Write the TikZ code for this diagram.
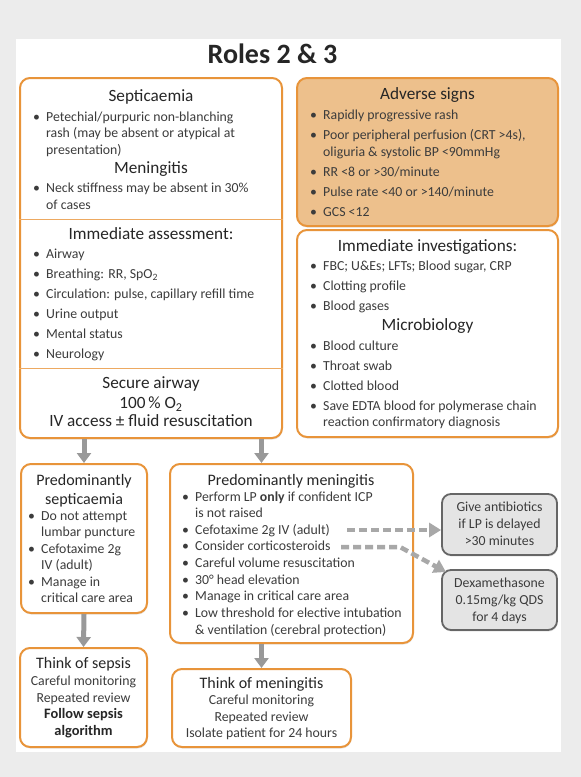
\documentclass[tikz,border=0pt]{standalone}
\usepackage{fontspec}
\setmainfont{Carlito}
\usetikzlibrary{arrows.meta,shadows}
\definecolor{orng}{HTML}{E8943A}
\definecolor{orfill}{HTML}{EDC08C}
\definecolor{bgg}{HTML}{ECECEC}
\definecolor{txtc}{HTML}{3C3C3C}
\definecolor{hdc}{HTML}{262626}
\definecolor{arrg}{HTML}{999999}
\definecolor{gfill}{HTML}{E4E4E4}
\definecolor{gbord}{HTML}{666666}
\tikzset{
  obox/.style={draw=orng, line width=2pt, rounded corners=10pt, fill=white, inner sep=0pt,
    drop shadow={opacity=0.18, shadow xshift=0.6pt, shadow yshift=-1.6pt}},
  fbox/.style={obox, fill=orfill},
  gbox/.style={draw=gbord, line width=1.8pt, rounded corners=9pt, fill=gfill, inner sep=0pt,
    drop shadow={opacity=0.18, shadow xshift=0.6pt, shadow yshift=-1.6pt}},
  divline/.style={draw=orng!80, line width=1pt},
  txt/.style={inner sep=0pt, text=txtc, font=\fontsize{13.8}{16}\selectfont},
  hd/.style={inner sep=0pt, text=hdc, font=\fontsize{17.2}{19}\selectfont},
  hdb/.style={inner sep=0pt, text=hdc, font=\fontsize{16}{18}\selectfont},
  bld/.style={inner sep=0pt, text=hdc, font=\fontsize{14.4}{16}\selectfont\bfseries},
  garrow/.style={draw=arrg, line width=5pt, -{Triangle[width=14pt,length=10pt]}},
  darrow/.style={draw=arrg!85, line width=4.5pt, dash pattern=on 8pt off 4pt,
    -{Triangle[width=14pt,length=12pt]}},
}
\newcommand\tl[3]{\node[txt,anchor=base west] at (#1,#2+4.5) {#3};}
\newcommand\bl[3]{\node[txt,anchor=base west] at (#1,#2+4.5) {#3};
  \node[txt,anchor=base] at (#1-9.5,#2+4.5) {\textbullet};}
\newcommand\cl[3]{\node[txt,anchor=base] at (#1,#2+4.5) {#3};}
\newcommand\hl[3]{\node[hd,anchor=base] at (#1,#2+5.8) {#3};}
\newcommand\hbl[3]{\node[hdb,anchor=base] at (#1,#2+5.4) {#3};}
\newcommand\bdl[3]{\node[bld,anchor=base] at (#1,#2+4.8) {#3};}
\begin{document}
\begin{tikzpicture}[x=1pt,y=-1pt]
\useasboundingbox (0,0) rectangle (581,777);
\fill[bgg] (0,0) rectangle (581,777);
\fill[white] (16,39) rectangle (561,752);
\node[inner sep=0pt, text=hdc, font=\fontsize{28}{30}\selectfont\bfseries, anchor=base] (title) at (272.5,63) {Roles 2 \& 3};

% boxes
\node[obox, minimum width=262pt, minimum height=360pt] (A) at (151,258) {};
\node[fbox, minimum width=261pt, minimum height=148pt] (B) at (427.5,152) {};
\node[obox, minimum width=261pt, minimum height=207pt] (C) at (427.5,333.5) {};
\node[obox, minimum width=126pt, minimum height=149pt] (D) at (84,538.5) {};
\node[obox, minimum width=243pt, minimum height=179pt] (E) at (291.5,553.5) {};
\node[gbox, minimum width=115pt, minimum height=61pt] (F) at (499.5,524.5) {};
\node[gbox, minimum width=115pt, minimum height=60pt] (G) at (499.5,600) {};
\node[obox, minimum width=127pt, minimum height=99pt] (H) at (83.5,697.5) {};
\node[obox, minimum width=179pt, minimum height=78pt] (I) at (261.5,708) {};

\draw[divline] (A.west |- 0,219) -- (A.east |- 0,219);
\draw[divline] (A.west |- 0,368) -- (A.east |- 0,368);

% Box A
\hl{151}{96}{Septicaemia}
\bl{46}{117}{Petechial/purpuric non-blanching}
\tl{46}{133}{rash (may be absent or atypical at}
\tl{46}{150}{presentation)}
\hl{151}{168}{Meningitis}
\bl{46}{188}{Neck stiffness may be absent in 30\%}
\tl{46}{205}{of cases}
\hl{151}{234}{Immediate assessment:}
\bl{46}{254}{Airway}
\bl{46}{274}{Breathing: RR, SpO\textsubscript{2}}
\bl{46}{294}{Circulation: pulse, capillary refill time}
\bl{46}{314}{Urine output}
\bl{46}{334}{Mental status}
\bl{46}{354}{Neurology}
\hl{151}{383}{Secure airway}
\hl{151}{403}{100\,\% O\textsubscript{2}}
\hl{151}{421}{IV access ± fluid resuscitation}

% Box B
\hl{427.5}{94}{Adverse signs}
\bl{323}{115}{Rapidly progressive rash}
\bl{323}{135}{Poor peripheral perfusion (CRT >4s),}
\tl{323}{152}{oliguria \& systolic BP <90mmHg}
\bl{323}{172}{RR <8 or >30/minute}
\bl{323}{192}{Pulse rate <40 or >140/minute}
\bl{323}{212}{GCS <12}

% Box C
\hl{427.5}{246}{Immediate investigations:}
\bl{323}{266}{FBC; U\&Es; LFTs; Blood sugar, CRP}
\bl{323}{286}{Clotting profile}
\bl{323}{306}{Blood gases}
\hl{427.5}{325}{Microbiology}
\bl{323}{346}{Blood culture}
\bl{323}{366}{Throat swab}
\bl{323}{386}{Clotted blood}
\bl{323}{406}{Save EDTA blood for polymerase chain}
\tl{323}{422}{reaction confirmatory diagnosis}

% Box D
\hbl{84}{480}{Predominantly}
\hbl{84}{499}{septicaemia}
\bl{41}{516}{Do not attempt}
\tl{41}{532}{lumbar puncture}
\bl{41}{549}{Cefotaxime 2g}
\tl{41}{565}{IV (adult)}
\bl{41}{582}{Manage in}
\tl{41}{598}{critical care area}

% Box E
\hbl{291}{480}{Predominantly meningitis}
\bl{195}{497}{Perform LP \textbf{only} if confident ICP}
\tl{195}{513}{is not raised}
\bl{195}{530}{Cefotaxime 2g IV (adult)}
\bl{195}{546}{Consider corticosteroids}
\bl{195}{563}{Careful volume resuscitation}
\bl{195}{580}{30° head elevation}
\bl{195}{596}{Manage in critical care area}
\bl{195}{613}{Low threshold for elective intubation}
\tl{195}{630}{\& ventilation (cerebral protection)}

% Box F, G
\cl{499.5}{507}{Give antibiotics}
\cl{499.5}{524}{if LP is delayed}
\cl{499.5}{541}{>30 minutes}
\cl{499.5}{583}{Dexamethasone}
\cl{499.5}{600}{0.15mg/kg QDS}
\cl{499.5}{617}{for 4 days}

% Box H
\hbl{83.5}{663}{Think of sepsis}
\cl{83.5}{681}{Careful monitoring}
\cl{83.5}{698}{Repeated review}
\bdl{83.5}{714}{Follow sepsis}
\bdl{83.5}{731}{algorithm}

% Box I
\hbl{261.5}{683}{Think of meningitis}
\cl{261.5}{700}{Careful monitoring}
\cl{261.5}{717}{Repeated review}
\cl{261.5}{733}{Isolate patient for 24 hours}

% arrows
\draw[garrow] (A.south -| D.north) -- (D.north);
\draw[garrow] (A.south -| I.north) -- (E.north -| I.north);
\draw[garrow] (D.south) -- (H.north);
\draw[garrow] (E.south -| I.north) -- (I.north);

\coordinate (c1) at (347,530);
\coordinate (c2) at (341,547);
\coordinate (c3) at (400,547);
\coordinate (c4) at (446,572);
\draw[darrow] (c1) -- (c1 -| F.west);
\draw[darrow] (c2) -- (c3) -- (c4);
\end{tikzpicture}
\end{document}
